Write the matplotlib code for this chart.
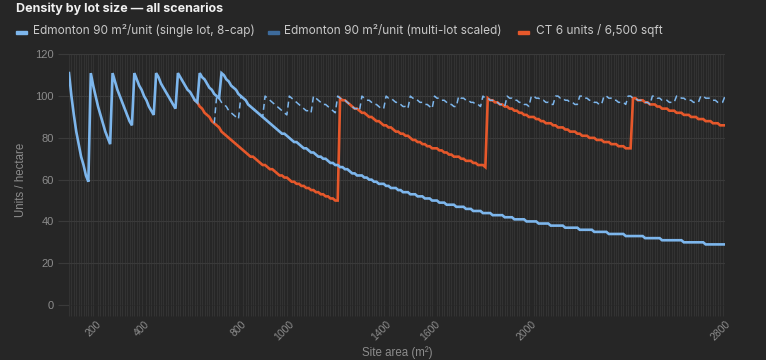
import matplotlib
matplotlib.use("Agg")
import matplotlib.pyplot as plt
from matplotlib.patches import Rectangle

# ---------------- data ----------------
site_area = list(range(90, 2801, 10))          # x categories, m²
x_tick_labels = [200, 400, 800, 1000, 1400, 1600, 2000, 2800]
y_ticks = [0, 20, 40, 60, 80, 100, 120]

# unit counts: (first site area at which the count applies, units)
single_lot_steps = [(90, 1), (180, 2), (270, 3), (360, 4), (450, 5),
                    (540, 6), (630, 7), (720, 8)]
multi_lot_steps = [(690, 6), (700, 7), (800, 8), (900, 9), (1000, 10),
                   (1100, 11), (1200, 12), (1300, 13), (1400, 14),
                   (1500, 15), (1600, 16), (1700, 17), (1800, 18),
                   (1900, 19), (2000, 20), (2100, 21), (2200, 22),
                   (2300, 23), (2400, 24), (2500, 25), (2600, 26),
                   (2700, 27), (2800, 28)]
ct_steps = [(610, 6), (1210, 12), (1820, 18), (2420, 24)]

series_labels = ["Edmonton 90 m²/unit (single lot, 8-cap)",
                 "Edmonton 90 m²/unit (multi-lot scaled)",
                 "CT 6 units / 6,500 sqft"]


def density(steps):
    out = []
    for a in site_area:
        u = None
        for start, n in steps:
            if a >= start:
                u = n
        out.append(float('nan') if u is None else round(u / a * 10000))
    return out


single_lot = density(single_lot_steps)
multi_lot = density(multi_lot_steps)
ct = density(ct_steps)

# ---------------- style ----------------
BG = "#262626"
BLUE = "#7db6ec"
DARK_BLUE = "#3d6b9c"
ORANGE = "#e6582b"
TXT = "#8c8c8c"
LEG = "#c9c9c9"
W, H = 766, 360

plt.rcParams['lines.scale_dashes'] = False
fig = plt.figure(figsize=(W / 100, H / 100), dpi=100, facecolor=BG)
L, R, T, B = 69, 725, 54.3, 305
ax = fig.add_axes([L / W, 1 - B / H, (R - L) / W, (B - T) / H])
ax.set_facecolor(BG)

ax.plot(site_area, ct, color=ORANGE, lw=1.9, zorder=3,
        solid_joinstyle='miter')
ax.plot(site_area, multi_lot, color=BLUE, lw=1.1, zorder=4,
        dashes=(4.3, 2.9))
ax.plot(site_area, single_lot, color=BLUE, lw=1.9, zorder=5,
        solid_joinstyle='miter')

ax.set_xlim(site_area[0], site_area[-1])
ax.set_ylim(0, 120)

# vertical category grid
ax.set_xticks(site_area, minor=True)
ax.tick_params(axis='x', which='minor', length=8, color="#333333", width=0.8)
ax.grid(True, axis='x', which='minor', color="#323232", lw=0.8, zorder=0)
ax.set_xticks(x_tick_labels)
ax.set_xticklabels([str(v) for v in x_tick_labels], rotation=45, ha='right',
                   va='top', rotation_mode='anchor', color=TXT, fontsize=7.5,
                   family='Liberation Sans')
ax.tick_params(axis='x', which='major', length=0, pad=10)

ax.set_yticks(y_ticks)
ax.set_yticklabels([str(v) for v in y_ticks], color=TXT, fontsize=8,
                   family='Liberation Sans')
ax.tick_params(axis='y', length=8, color="#3a3a3a", width=0.8, pad=3)
ax.grid(True, axis='y', color="#3a3a3a", lw=0.8, zorder=0)
for s in ax.spines.values():
    s.set_visible(False)

ax.set_ylabel("Units / hectare", color=TXT, fontsize=8.3,
              family='Liberation Sans')
ax.yaxis.set_label_coords((27 - L) / (R - L), 0.5)
fig.text(397 / W, 1 - 353 / H, "Site area (m²)", color=TXT, fontsize=8.3,
         family='Liberation Sans', ha='center', va='center')

# title
fig.text(16 / W, 1 - 9 / H, "Density by lot size — all scenarios",
         color="#f0f0f0", fontsize=9.0, fontweight='bold', family='Inter',
         ha='left', va='center')

# legend
items = [(16, 33, BLUE), (268, 284, DARK_BLUE), (518, 536, ORANGE)]
for (sx, tx, c), lab in zip(items, series_labels):
    fig.patches.append(Rectangle((sx / W, 1 - 33.5 / H), 11 / W, 3 / H,
                                 transform=fig.transFigure, color=c,
                                 figure=fig))
    fig.text(tx / W, 1 - 30.5 / H, lab, color=LEG, fontsize=8.5,
             family='Inter', ha='left', va='center')

fig.savefig("out.png", dpi=100, facecolor=BG)
